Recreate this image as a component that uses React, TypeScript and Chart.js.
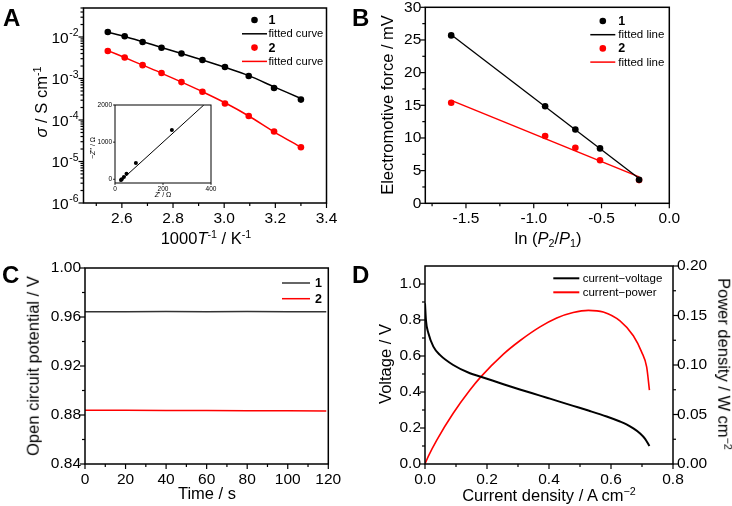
import React, { useEffect, useRef } from "react";
import { Chart, registerables } from "chart.js";

const W = 732;
const H = 506;
const FONT = "'Liberation Sans', Arial, Helvetica, sans-serif";
const RED = "#ff0000";
const TICK_SIZE = 15.5;

// ---------- Panel A: conductivity vs 1000/T (log) ----------
const invTemp = [2.545, 2.611, 2.681, 2.755, 2.833, 2.915, 3.003, 3.096, 3.195, 3.3];
const sigma1 = [1.32e-2, 1.04e-2, 7.6e-3, 5.5e-3, 4.0e-3, 2.8e-3, 1.9e-3, 1.15e-3, 5.9e-4, 3.1e-4];
const sigma2 = [4.6e-3, 3.2e-3, 2.1e-3, 1.36e-3, 8.2e-4, 4.8e-4, 2.5e-4, 1.25e-4, 5.3e-5, 2.2e-5];
const sigmaFit1 = [1.3e-2, 1.03e-2, 7.7e-3, 5.6e-3, 4.0e-3, 2.8e-3, 1.86e-3, 1.17e-3, 6.3e-4, 3.3e-4];
const sigmaFit2 = [4.7e-3, 3.2e-3, 2.1e-3, 1.35e-3, 8.2e-4, 4.8e-4, 2.6e-4, 1.25e-4, 5.2e-5, 2.2e-5];
const aXTicks = [2.6, 2.8, 3.0, 3.2, 3.4];
const aXMinor = [2.5, 2.7, 2.9, 3.1, 3.3];
const aYTicks = [1e-6, 1e-5, 1e-4, 1e-3, 1e-2];

// ---------- Inset: Nyquist ----------
const zReal = [25, 28, 37, 48, 87, 237];
const zImag = [-20, 0, 60, 150, 440, 1330];
const zFitReal = [20, 370];
const zFitImag = [-60, 2000];
const inXTicks = [0, 200, 400];
const inYTicks = [0, 1000, 2000];

// ---------- Panel B: EMF vs ln(P2/P1) ----------
const lnRatio = [-1.609, -0.916, -0.693, -0.511, -0.223];
const emf1 = [25.7, 14.85, 11.3, 8.4, 3.6];
const emf2 = [15.4, 10.3, 8.5, 6.6, 3.55];
const lnFit = [-1.609, -0.223];
const emfFit1 = [25.8, 3.8];
const emfFit2 = [15.75, 4.05];
const bXTicks = [-1.5, -1.0, -0.5, 0.0];
const bXMinor = [-1.75, -1.25, -0.75, -0.25];
const bYTicks = [0, 5, 10, 15, 20, 25, 30];
const bYMinor = [2.5, 7.5, 12.5, 17.5, 22.5, 27.5];

// ---------- Panel C: open circuit potential ----------
const timeS = [0, 20, 40, 60, 80, 100, 119];
const ocv1 = [0.9642, 0.9643, 0.9644, 0.9643, 0.9644, 0.9643, 0.9643];
const ocv2 = [0.8838, 0.8838, 0.8837, 0.8836, 0.8835, 0.8834, 0.8833];
const cXTicks = [0, 20, 40, 60, 80, 100, 120];
const cXMinor = [10, 30, 50, 70, 90, 110];
const cYTicks = [0.84, 0.88, 0.92, 0.96, 1.0];
const cYMinor = [0.86, 0.9, 0.94, 0.98];

// ---------- Panel D: I-V and I-P ----------
const currentV = [0, 0.003, 0.011, 0.027, 0.048, 0.091, 0.145, 0.18, 0.253, 0.306, 0.371, 0.403, 0.478, 0.527, 0.586, 0.629, 0.65, 0.672, 0.694, 0.71, 0.724];
const voltage = [0.893, 0.8, 0.726, 0.652, 0.606, 0.55, 0.504, 0.485, 0.443, 0.414, 0.38, 0.363, 0.323, 0.297, 0.264, 0.236, 0.22, 0.198, 0.17, 0.14, 0.1];
const currentP = [0, 0.011, 0.038, 0.091, 0.145, 0.18, 0.253, 0.306, 0.371, 0.425, 0.478, 0.527, 0.575, 0.629, 0.672, 0.699, 0.715, 0.724];
const power = [0, 0.008, 0.0242, 0.0512, 0.0747, 0.088, 0.111, 0.1245, 0.1385, 0.1475, 0.153, 0.1552, 0.1535, 0.1445, 0.1295, 0.113, 0.098, 0.0747];
const dXTicks = [0, 0.2, 0.4, 0.6, 0.8];
const dXMinor = [0.1, 0.3, 0.5, 0.7];
const dYTicks = [0, 0.2, 0.4, 0.6, 0.8, 1.0];
const dYMinor = [0.1, 0.3, 0.5, 0.7, 0.9];
const dY2Ticks = [0, 0.05, 0.1, 0.15, 0.2];
const dY2Minor = [0.025, 0.075, 0.125, 0.175];

type Area = { l: number; t: number; r: number; b: number };
type Kind = "x" | "yl" | "yr";

const decoPlugin = {
  id: "deco",
  beforeDatasetsDraw(chart: any, _a: any, o: any) {
    if (!o || !o.bg) return;
    const a = chart.chartArea;
    const ctx = chart.ctx;
    ctx.save();
    ctx.fillStyle = "#fff";
    ctx.fillRect(a.left, a.top, a.right - a.left, a.bottom - a.top);
    ctx.restore();
  },
  afterDraw(chart: any, _a: any, o: any) {
    if (!o || !o.on) return;
    const ctx = chart.ctx;
    const a = chart.chartArea;
    ctx.save();
    ctx.strokeStyle = "#000";
    for (const ax of o.axes || []) {
      const s = chart.scales[ax.id];
      const draw = (v: number, len: number) => {
        const p = s.getPixelForValue(v);
        ctx.beginPath();
        if (ax.side === "bottom") {
          ctx.moveTo(p, a.bottom);
          ctx.lineTo(p, a.bottom + len);
        } else if (ax.side === "left") {
          ctx.moveTo(a.left, p);
          ctx.lineTo(a.left - len, p);
        } else {
          ctx.moveTo(a.right, p);
          ctx.lineTo(a.right + len, p);
        }
        ctx.stroke();
      };
      ctx.lineWidth = ax.tw ?? 1.2;
      (ax.major || []).forEach((v: number) => draw(v, ax.ml ?? 5));
      (ax.minor || []).forEach((v: number) => draw(v, ax.nl ?? 3));
    }
    ctx.lineWidth = o.frameWidth ?? 1.5;
    ctx.strokeRect(a.left, a.top, a.right - a.left, a.bottom - a.top);

    if (o.pow) {
      const s = chart.scales[o.pow.id];
      ctx.fillStyle = "#000";
      ctx.textAlign = "left";
      ctx.textBaseline = "alphabetic";
      for (const v of o.pow.values) {
        const y = s.getPixelForValue(v);
        const exp = String(Math.round(Math.log10(v)));
        ctx.font = `${o.pow.sup}px ${FONT}`;
        const ws = ctx.measureText(exp).width;
        ctx.font = `${o.pow.size}px ${FONT}`;
        const wb = ctx.measureText("10").width;
        const xEnd = a.left - o.pow.gap;
        ctx.fillText("10", xEnd - ws - wb - 0.5, y + 5.5);
        ctx.font = `${o.pow.sup}px ${FONT}`;
        ctx.fillText(exp, xEnd - ws, y - 1);
      }
    }

    if (o.legend) {
      const L = o.legend;
      const cx = a.left + L.x;
      let y = a.top + L.y;
      for (const it of L.items) {
        if (it.kind === "dot") {
          ctx.fillStyle = it.color;
          ctx.beginPath();
          ctx.arc(cx, y, L.r ?? 3.3, 0, Math.PI * 2);
          ctx.fill();
        } else {
          ctx.strokeStyle = it.color;
          ctx.lineWidth = L.lw ?? 1.5;
          ctx.beginPath();
          ctx.moveTo(cx - L.len / 2, y);
          ctx.lineTo(cx + L.len / 2, y);
          ctx.stroke();
        }
        ctx.fillStyle = "#000";
        ctx.font = `${it.bold ? "bold " : ""}${it.bold ? L.bsize : L.size}px ${FONT}`;
        ctx.textAlign = "left";
        ctx.textBaseline = "middle";
        ctx.fillText(it.text, cx + L.gap, y + 0.5);
        y += L.dy;
      }
    }
    ctx.restore();
  },
};

Chart.register(...registerables, decoPlugin);

function fitter(area: Area, kind: Kind) {
  return (s: any) => {
    if (kind === "x") s.height = H - area.b;
    else if (kind === "yl") s.width = area.l;
    else s.width = W - area.r;
    s.paddingLeft = 0;
    s.paddingRight = 0;
    s.paddingTop = 0;
    s.paddingBottom = 0;
  };
}

function axis(o: {
  type?: string;
  min: number;
  max: number;
  majors: number[];
  fmt: (v: number) => string;
  area: Area;
  kind: Kind;
  size?: number;
  pad?: number;
}) {
  return {
    type: o.type ?? "linear",
    position: o.kind === "x" ? "bottom" : o.kind === "yl" ? "left" : "right",
    min: o.min,
    max: o.max,
    grid: { display: false, drawTicks: false },
    border: { display: false },
    ticks: {
      color: "#000",
      font: { family: FONT, size: o.size ?? TICK_SIZE },
      padding: o.pad ?? 4,
      autoSkip: false,
      maxRotation: 0,
      minRotation: 0,
      callback: (v: any) => o.fmt(Number(v)),
    },
    afterBuildTicks: (s: any) => {
      s.ticks = o.majors.map((v) => ({ value: v }));
    },
    afterFit: fitter(o.area, o.kind),
  };
}

function baseOptions(area: Area, hasRight: boolean, scales: any, deco: any) {
  return {
    responsive: false,
    animation: false,
    devicePixelRatio: 1,
    events: [],
    layout: { padding: { top: area.t, left: 0, right: hasRight ? 0 : W - area.r, bottom: 0 } },
    plugins: { legend: { display: false }, tooltip: { enabled: false }, deco: { on: true, ...deco } },
    scales,
  };
}

const pts = (xs: number[], ys: number[]) => xs.map((x, i) => ({ x, y: ys[i] }));

function dots(label: string, data: any[], color: string, r = 3.3) {
  return { label, data, showLine: false, pointRadius: r, pointBackgroundColor: color, pointBorderWidth: 0, borderColor: color, backgroundColor: color };
}
function line(label: string, data: any[], color: string, w = 1.5, extra: any = {}) {
  return { label, data, showLine: true, pointRadius: 0, borderColor: color, borderWidth: w, backgroundColor: color, fill: false, ...extra };
}

// ---------- configs ----------
function configA() {
  const area: Area = { l: 83.5, t: 8, r: 326.5, b: 203 };
  const logMinor: number[] = [];
  for (let e = -6; e <= -2; e++) for (let m = 2; m <= 9; m++) { const v = m * Math.pow(10, e); if (v <= 0.05) logMinor.push(v); }
  return {
    type: "scatter",
    data: {
      datasets: [
        dots("1", pts(invTemp, sigma1), "#000"),
        dots("2", pts(invTemp, sigma2), RED),
        line("fitted curve 1", pts(invTemp, sigmaFit1), "#000", 1.5, { tension: 0.3 }),
        line("fitted curve 2", pts(invTemp, sigmaFit2), RED, 1.5, { tension: 0.3 }),
      ],
    },
    options: baseOptions(area, false, {
      x: axis({ min: 2.45, max: 3.4, majors: aXTicks, fmt: (v) => v.toFixed(1), area, kind: "x", pad: 6 }),
      y: axis({ type: "logarithmic", min: 1e-6, max: 0.05, majors: aYTicks, fmt: () => "", area, kind: "yl" }),
    }, {
      axes: [
        { id: "x", side: "bottom", major: aXTicks, minor: aXMinor },
        { id: "y", side: "left", major: aYTicks, minor: logMinor },
      ],
      pow: { id: "y", values: aYTicks, size: 15.5, sup: 10.5, gap: 5 },
      legend: {
        x: 171, y: 12, dy: 13.8, len: 25, gap: 14, size: 11.2, bsize: 12.5, r: 3.3,
        items: [
          { kind: "dot", color: "#000", text: "1", bold: true },
          { kind: "line", color: "#000", text: "fitted curve" },
          { kind: "dot", color: RED, text: "2", bold: true },
          { kind: "line", color: RED, text: "fitted curve" },
        ],
      },
    }),
  };
}

function configInset() {
  const area: Area = { l: 115, t: 105, r: 211, b: 183 };
  return {
    type: "scatter",
    data: {
      datasets: [
        dots("data", pts(zReal, zImag), "#000", 2),
        line("fit", pts(zFitReal, zFitImag), "#000", 1),
      ],
    },
    options: baseOptions(area, false, {
      x: axis({ min: 0, max: 400, majors: inXTicks, fmt: (v) => String(v), area, kind: "x", size: 6.5, pad: 2 }),
      y: axis({ min: -100, max: 2000, majors: inYTicks, fmt: (v) => String(v), area, kind: "yl", size: 6.5, pad: 3 }),
    }, {
      bg: true,
      frameWidth: 1,
      axes: [
        { id: "x", side: "bottom", major: inXTicks, ml: 2, tw: 0.8 },
        { id: "y", side: "left", major: inYTicks, ml: 2, tw: 0.8 },
      ],
    }),
  };
}

function configB() {
  const area: Area = { l: 425.3, t: 7.3, r: 669.3, b: 203.3 };
  return {
    type: "scatter",
    data: {
      datasets: [
        dots("1", pts(lnRatio, emf1), "#000"),
        dots("2", pts(lnRatio, emf2), RED),
        line("fitted line 1", pts(lnFit, emfFit1), "#000", 1.3),
        line("fitted line 2", pts(lnFit, emfFit2), RED, 1.5),
      ],
    },
    options: baseOptions(area, false, {
      x: axis({ min: -1.8, max: 0, majors: bXTicks, fmt: (v) => v.toFixed(1), area, kind: "x", pad: 6 }),
      y: axis({ min: 0, max: 30, majors: bYTicks, fmt: (v) => String(v), area, kind: "yl" }),
    }, {
      axes: [
        { id: "x", side: "bottom", major: bXTicks, minor: bXMinor },
        { id: "y", side: "left", major: bYTicks, minor: bYMinor },
      ],
      legend: {
        x: 177.5, y: 13.7, dy: 13.7, len: 25, gap: 15.5, size: 11.5, bsize: 12.5, r: 3.3,
        items: [
          { kind: "dot", color: "#000", text: "1", bold: true },
          { kind: "line", color: "#000", text: "fitted line" },
          { kind: "dot", color: RED, text: "2", bold: true },
          { kind: "line", color: RED, text: "fitted line" },
        ],
      },
    }),
  };
}

function configC() {
  const area: Area = { l: 85, t: 268, r: 328.3, b: 464 };
  return {
    type: "scatter",
    data: {
      datasets: [
        line("1", pts(timeS, ocv1), "#333", 1.5),
        line("2", pts(timeS, ocv2), RED, 1.5),
      ],
    },
    options: baseOptions(area, false, {
      x: axis({ min: 0, max: 120, majors: cXTicks, fmt: (v) => String(v), area, kind: "x", pad: 6 }),
      y: axis({ min: 0.84, max: 1.0, majors: cYTicks, fmt: (v) => v.toFixed(2), area, kind: "yl" }),
    }, {
      axes: [
        { id: "x", side: "bottom", major: cXTicks, minor: cXMinor },
        { id: "y", side: "left", major: cYTicks, minor: cYMinor },
      ],
      legend: {
        x: 211, y: 15, dy: 15.7, len: 28, gap: 19, size: 12, bsize: 12.5,
        items: [
          { kind: "line", color: "#333", text: "1", bold: true },
          { kind: "line", color: RED, text: "2", bold: true },
        ],
      },
    }),
  };
}

function configD() {
  const area: Area = { l: 425, t: 266, r: 673, b: 464 };
  return {
    type: "scatter",
    data: {
      datasets: [
        line("current−voltage", pts(currentV, voltage), "#000", 2, { yAxisID: "y", cubicInterpolationMode: "monotone" }),
        line("current−power", pts(currentP, power), RED, 1.6, { yAxisID: "y2", cubicInterpolationMode: "monotone" }),
      ],
    },
    options: baseOptions(area, true, {
      x: axis({ min: 0, max: 0.8, majors: dXTicks, fmt: (v) => v.toFixed(1), area, kind: "x", pad: 6 }),
      y: axis({ min: 0, max: 1.1, majors: dYTicks, fmt: (v) => v.toFixed(1), area, kind: "yl" }),
      y2: axis({ min: 0, max: 0.2, majors: dY2Ticks, fmt: (v) => v.toFixed(2), area, kind: "yr" }),
    }, {
      axes: [
        { id: "x", side: "bottom", major: dXTicks, minor: dXMinor },
        { id: "y", side: "left", major: dYTicks, minor: dYMinor },
        { id: "y2", side: "right", major: dY2Ticks, minor: dY2Minor },
      ],
      legend: {
        x: 141.3, y: 12.3, dy: 14, len: 26, gap: 16.4, size: 11.5, bsize: 11.5, lw: 2,
        items: [
          { kind: "line", color: "#000", text: "current−voltage" },
          { kind: "line", color: RED, text: "current−power" },
        ],
      },
    }),
  };
}

function ChartCanvas({ make }: { make: () => any }) {
  const ref = useRef<HTMLCanvasElement>(null);
  useEffect(() => {
    const c = new Chart(ref.current as HTMLCanvasElement, make() as any);
    return () => c.destroy();
  }, []);
  return <canvas ref={ref} width={W} height={H} style={{ position: "absolute", left: 0, top: 0, width: W, height: H }} />;
}

function Txt(p: { x: number; y: number; rot?: number; size?: number; bold?: boolean; center?: boolean; children: any }) {
  const center = p.center !== false;
  return (
    <div
      style={{
        position: "absolute",
        left: p.x,
        top: p.y,
        transform: center ? `translate(-50%,-50%)${p.rot ? ` rotate(${p.rot}deg)` : ""}` : undefined,
        whiteSpace: "nowrap",
        fontFamily: FONT,
        fontSize: p.size ?? 16.5,
        fontWeight: p.bold ? "bold" : "normal",
        lineHeight: 1,
        color: "#000",
      }}
    >
      {p.children}
    </div>
  );
}

const Sup = ({ children }: { children: any }) => (
  <span style={{ fontSize: "0.65em", position: "relative", top: "-0.55em" }}>{children}</span>
);
const Sub = ({ children }: { children: any }) => (
  <span style={{ fontSize: "0.65em", position: "relative", top: "0.3em" }}>{children}</span>
);

export default function App() {
  return (
    <div style={{ position: "fixed", left: 0, top: 0, width: W, height: H, background: "#fff", overflow: "hidden" }}>
      <ChartCanvas make={configA} />
      <ChartCanvas make={configInset} />
      <ChartCanvas make={configB} />
      <ChartCanvas make={configC} />
      <ChartCanvas make={configD} />

      <Txt x={3} y={6} size={24} bold center={false}>A</Txt>
      <Txt x={352} y={6} size={24} bold center={false}>B</Txt>
      <Txt x={2} y={263} size={24} bold center={false}>C</Txt>
      <Txt x={352} y={263} size={24} bold center={false}>D</Txt>

      <Txt x={41} y={102} rot={-90}><i>σ</i> / S cm<Sup>-1</Sup></Txt>
      <Txt x={206} y={238}>1000<i>T</i><Sup>-1</Sup> / K<Sup>-1</Sup></Txt>
      <Txt x={92} y={148} rot={-90} size={7}>−<i>Z</i>'' / Ω</Txt>
      <Txt x={163} y={194} size={7}><i>Z</i>' / Ω</Txt>

      <Txt x={387} y={105} rot={-90}>Electromotive force / mV</Txt>
      <Txt x={548} y={238}>ln (<i>P</i><Sub>2</Sub>/<i>P</i><Sub>1</Sub>)</Txt>

      <Txt x={33} y={366} rot={-90}>Open circuit potential / V</Txt>
      <Txt x={207} y={493}>Time / s</Txt>

      <Txt x={385} y={364} rot={-90}>Voltage / V</Txt>
      <Txt x={724} y={364} rot={90}>Power density / W cm<Sup>−2</Sup></Txt>
      <Txt x={549} y={495}>Current density / A cm<Sup>−2</Sup></Txt>
    </div>
  );
}
